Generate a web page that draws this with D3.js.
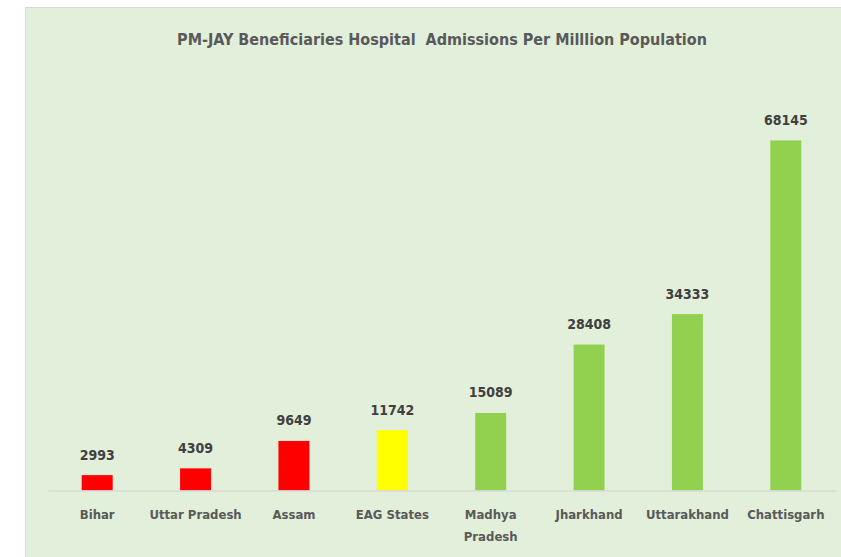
<!DOCTYPE html>
<meta charset="utf-8">
<script src="https://d3js.org/d3.v7.min.js"></script>
<style>
    body { margin: 0; background: #ffffff; }
    text { font-family: "Liberation Sans Narrow", "DejaVu Sans Condensed", "Open Sans", sans-serif; }
</style>
<div id="chart"></div>
<script>
    // data
    var states = ["Bihar", "Uttar Pradesh", "Assam", "EAG States", "Madhya Pradesh",
                  "Jharkhand", "Uttarakhand", "Chattisgarh"];
    var admissions = [2993, 4309, 9649, 11742, 15089, 28408, 34333, 68145];
    var groups = ["below", "below", "below", "average", "above", "above", "above", "above"];

    var width = 841, height = 557;

    var svg = d3.select("#chart").append("svg")
        .attr("width", width)
        .attr("height", height);

    // chart area panel
    svg.append("rect")
        .attr("x", 25.5)
        .attr("y", 7.5)
        .attr("width", width)
        .attr("height", height)
        .attr("fill", "#e2efda")
        .attr("stroke", "#d9d9d9")
        .attr("stroke-width", 1);

    svg.append("text")
        .attr("x", 442)
        .attr("y", 45)
        .attr("text-anchor", "middle")
        .attr("font-size", "16px")
        .attr("font-weight", "bold")
        .attr("fill", "#595959")
        .style("white-space", "pre")
        .text("PM-JAY Beneficiaries Hospital  Admissions Per Milllion Population");

    var x = d3.scaleBand()
        .domain(states)
        .range([48, 835])
        .paddingInner(0.685)
        .paddingOuter(0.3425);

    var y = d3.scaleLinear()
        .domain([0, 80000])
        .range([490.5, 79.5]);

    var color = d3.scaleOrdinal()
        .domain(["below", "average", "above"])
        .range(["#ff0000", "#ffff00", "#92d050"]);

    var data = states.map(function(s, i) {
        return { state: s, value: admissions[i], group: groups[i] };
    });

    svg.selectAll(null)
        .data(data)
        .enter()
        .append("rect")
        .attr("x", function(d) { return x(d.state); })
        .attr("y", function(d) { return y(d.value); })
        .attr("width", x.bandwidth())
        .attr("height", function(d) { return y(0) - y(d.value); })
        .attr("fill", function(d) { return color(d.group); });

    // category axis
    var xAxis = svg.append("g")
        .attr("transform", "translate(0," + y(0) + ")")
        .call(d3.axisBottom(x).tickSize(0).tickPadding(0));

    xAxis.select(".domain")
        .attr("stroke", "#d9d9d9")
        .attr("stroke-width", 1.5);

    xAxis.selectAll(".tick text").remove();

    xAxis.selectAll(".tick").append("text")
        .attr("text-anchor", "middle")
        .attr("font-size", "13px")
        .attr("font-weight", "bold")
        .attr("fill", "#595959")
        .each(function(d) {
            var words = d === "Madhya Pradesh" ? ["Madhya", "Pradesh"] : [d];
            var t = d3.select(this);
            words.forEach(function(w, i) {
                t.append("tspan")
                    .attr("x", 0)
                    .attr("y", 28.5 + i * 22)
                    .text(w);
            });
        });

    // value labels
    svg.selectAll(null)
        .data(data)
        .enter()
        .append("text")
        .attr("x", function(d) { return x(d.state) + x.bandwidth() / 2; })
        .attr("y", function(d) { return y(d.value) - 15.5; })
        .attr("text-anchor", "middle")
        .attr("font-size", "14px")
        .attr("font-weight", "bold")
        .attr("fill", "#404040")
        .text(function(d) { return d.value; });
</script>
